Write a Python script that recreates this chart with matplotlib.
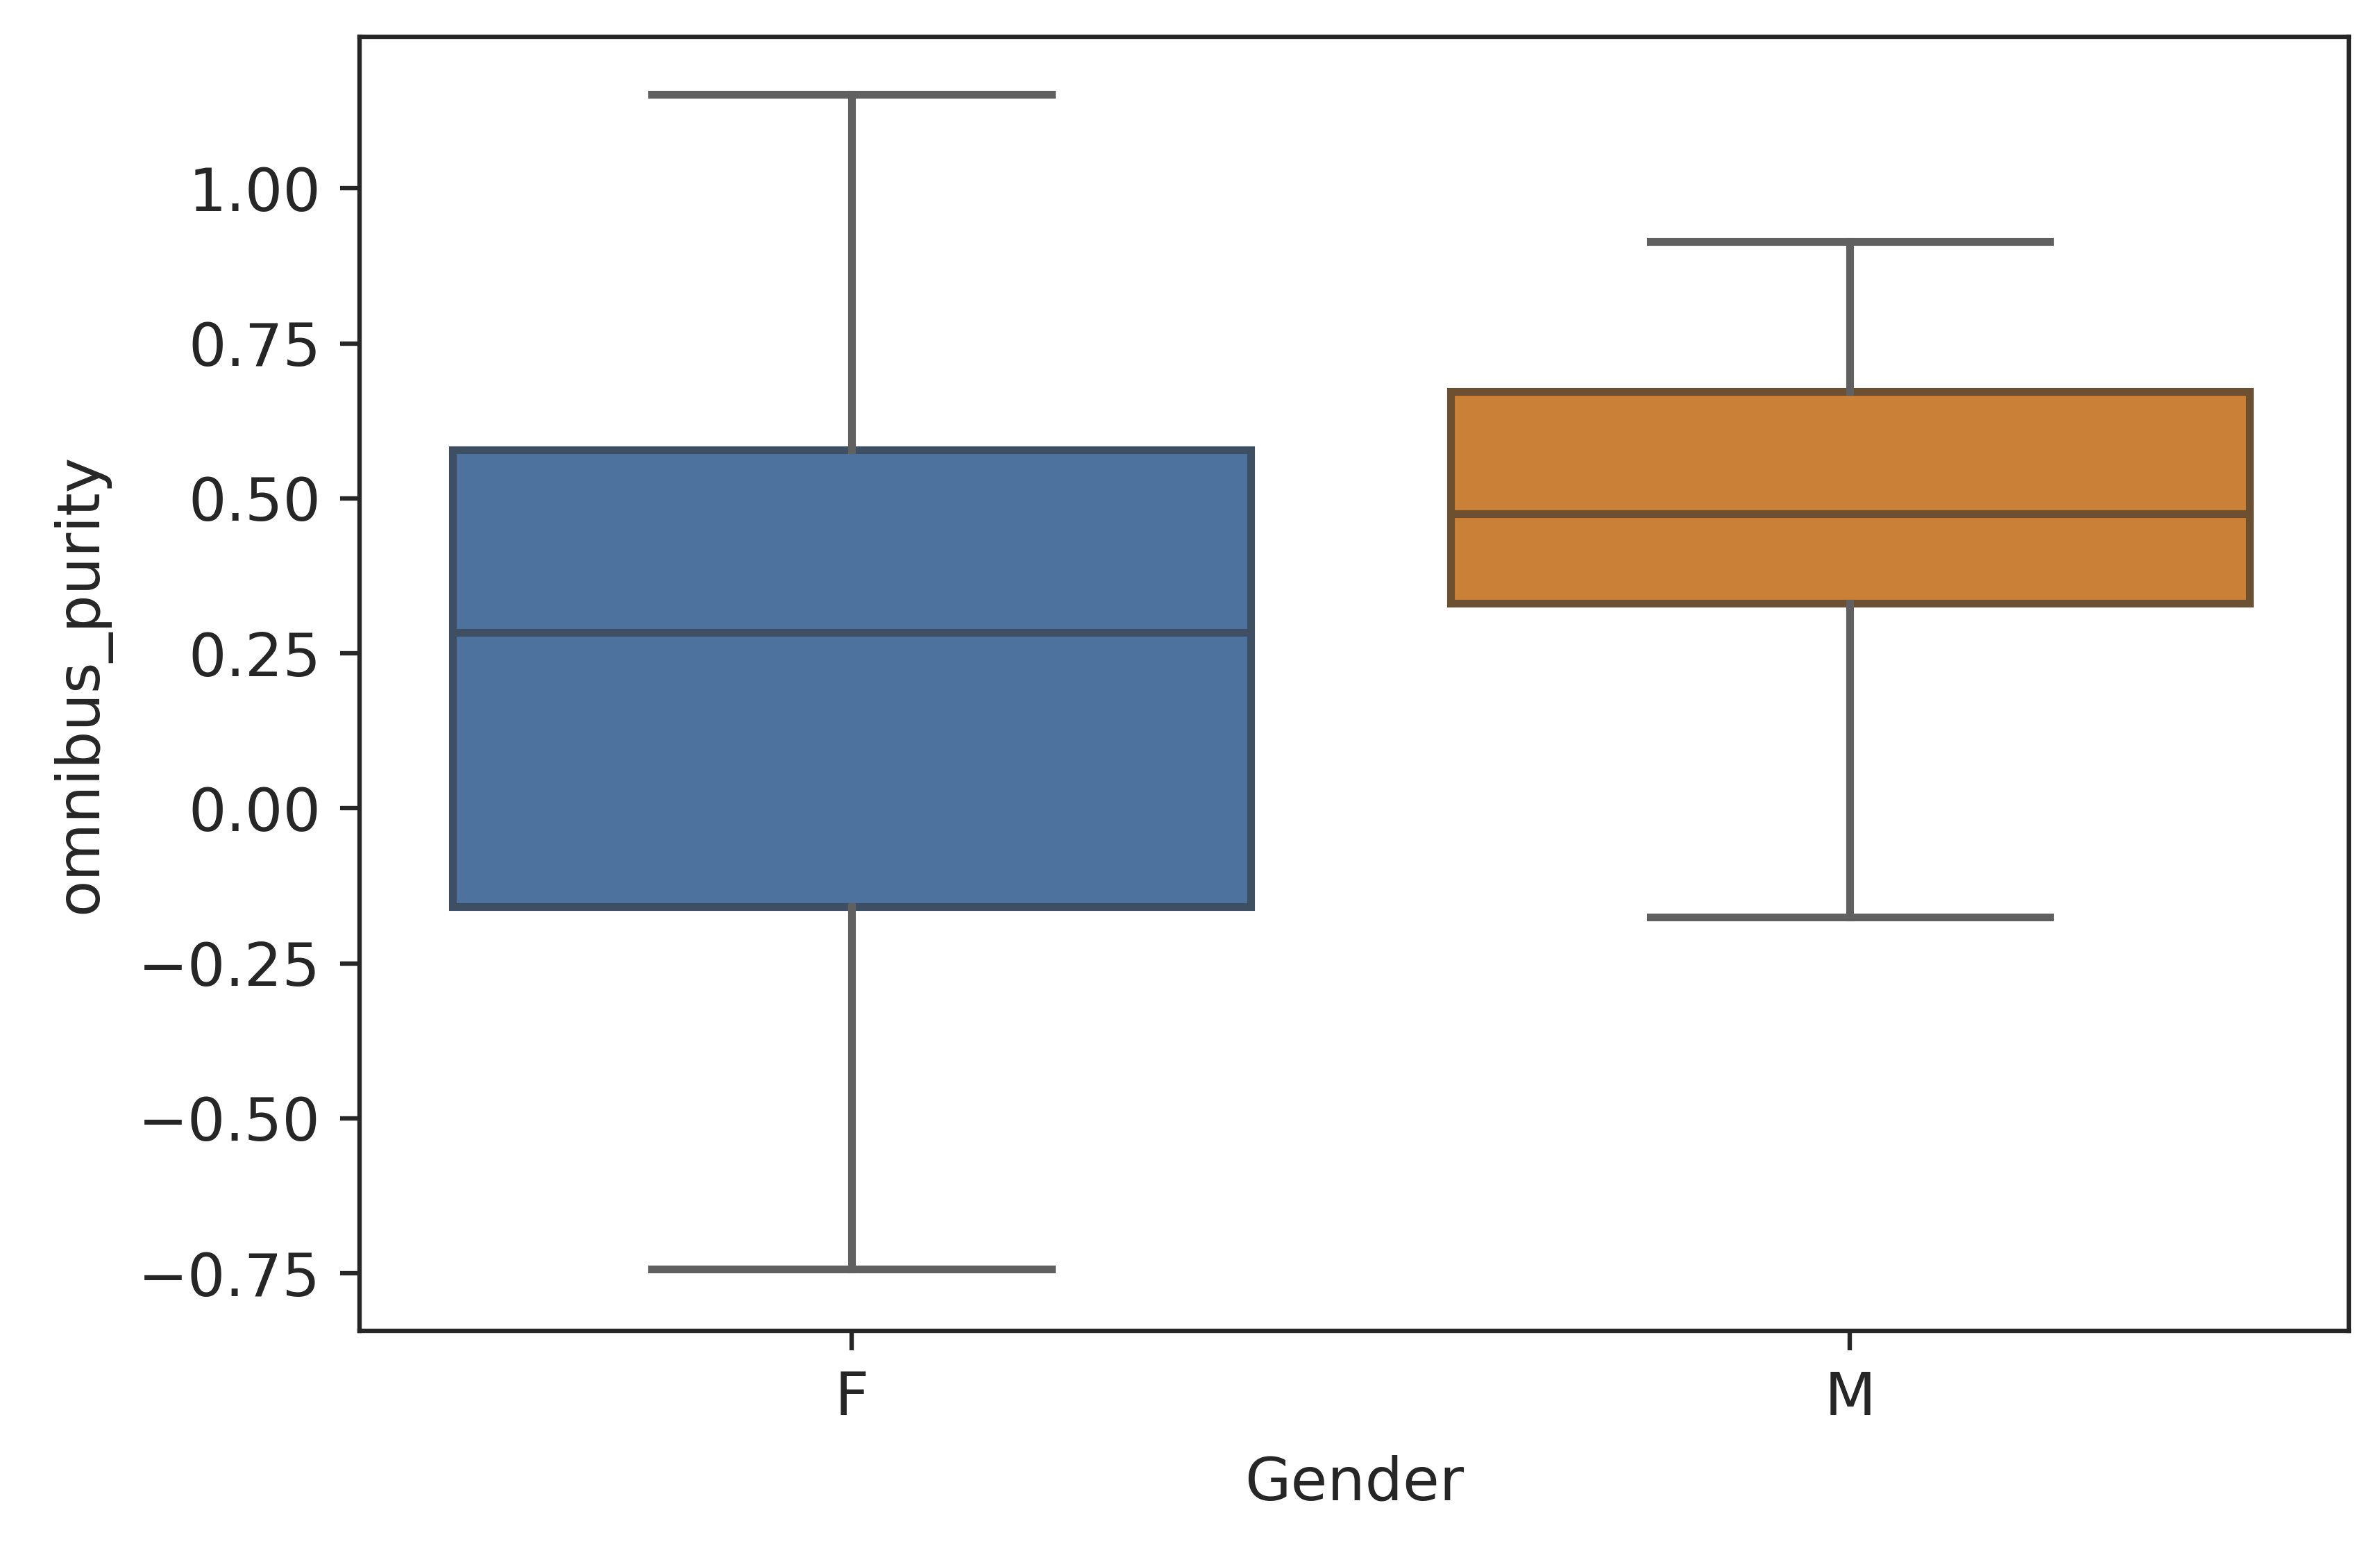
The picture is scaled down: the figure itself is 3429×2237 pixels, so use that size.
import matplotlib
matplotlib.use("Agg")
import matplotlib.pyplot as plt

categories = ["F", "M"]
whislo = [-0.743, -0.176]
q1 = [-0.159, 0.331]
med = [0.284, 0.475]
q3 = [0.578, 0.672]
whishi = [1.152, 0.914]

fills = ["#4d729e", "#cb8037"]
edges = ["#3f4f63", "#6b5031"]
whisker_color = "#606060"

plt.rcParams['font.family'] = ['DejaVu Sans']
plt.rcParams['font.size'] = 10.8
plt.rcParams['text.color'] = '#262626'
plt.rcParams['axes.labelcolor'] = '#262626'
plt.rcParams['xtick.color'] = '#262626'
plt.rcParams['ytick.color'] = '#262626'
fig = plt.figure(figsize=(3429 / 571.5, 2237 / 571.5), dpi=571.5)
ax = fig.add_axes([0.151, 0.143, 0.836, 0.8335])

for i, cat in enumerate(categories):
    stats = [dict(label=cat, whislo=whislo[i], q1=q1[i], med=med[i], q3=q3[i],
                  whishi=whishi[i], fliers=[])]
    ax.bxp(stats, positions=[i], widths=0.8, patch_artist=True, showfliers=False,
           boxprops=dict(facecolor=fills[i], edgecolor=edges[i], linewidth=1.4),
           medianprops=dict(color=edges[i], linewidth=1.4),
           whiskerprops=dict(color=whisker_color, linewidth=1.4),
           capprops=dict(color=whisker_color, linewidth=1.4),
           capwidths=0.4, manage_ticks=False)

ax.set_xlim(-0.493, 1.5)
ax.set_ylim(-0.843, 1.245)
ax.set_xticks(range(len(categories)))
ax.set_xticklabels(categories)
ax.set_yticks([-0.75, -0.5, -0.25, 0.0, 0.25, 0.5, 0.75, 1.0])
ax.set_xlabel("Gender", labelpad=5)
ax.set_ylabel("omnibus_purity", labelpad=5)
for s in ax.spines.values():
    s.set_color("#262626")

fig.savefig("out.png", dpi=571.5)
